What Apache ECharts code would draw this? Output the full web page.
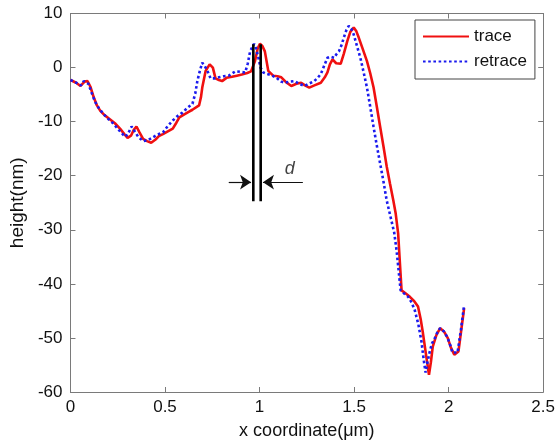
<!DOCTYPE html>
<html>
<head>
<meta charset="utf-8">
<script src="https://cdn.jsdelivr.net/npm/echarts@6/dist/echarts.min.js"></script>
<style>html,body{margin:0;padding:0;background:#fff}#c{width:558px;height:445px}</style>
</head>
<body>
<div id="c"></div>
<script>
// ---- data ----
const traceX = [0.00,0.03,0.053,0.075,0.09,0.105,0.123,0.14,0.158,0.18,0.21,0.235,0.262,0.285,0.302,0.32,0.335,0.349,0.365,0.384,0.405,0.427,0.45,0.47,0.489,0.515,0.541,0.56,0.576,0.6,0.625,0.645,0.68,0.69,0.697,0.715,0.736,0.753,0.767,0.785,0.802,0.825,0.854,0.88,0.906,0.935,0.955,0.976,0.99,1.002,1.015,1.028,1.046,1.072,1.095,1.115,1.14,1.168,1.195,1.22,1.24,1.263,1.29,1.324,1.345,1.359,1.372,1.386,1.405,1.429,1.445,1.464,1.48,1.498,1.512,1.525,1.545,1.568,1.585,1.603,1.62,1.638,1.655,1.673,1.69,1.707,1.72,1.733,1.742,1.751,1.77,1.795,1.818,1.838,1.852,1.864,1.88,1.896,1.906,1.916,1.935,1.955,1.975,1.995,2.012,2.03,2.052,2.065,2.082];
const traceY = [-2.3,-2.8,-3.4,-2.6,-2.5,-3.5,-5.5,-7,-8,-8.8,-9.6,-10.3,-11.3,-12.3,-13,-12.6,-11.5,-10.9,-12,-13.2,-13.6,-13.9,-13.3,-12.6,-12.3,-11.8,-11.3,-10.2,-9.2,-8.7,-8.2,-7.8,-7,-5.5,-3.7,-0.6,0.6,0,-2,-2.3,-2.5,-1.9,-1.7,-1.5,-1.3,-1.0,-0.7,1.2,3.5,4.4,4.0,3,-0.6,-1.5,-1.6,-1.8,-2.7,-3.4,-3.0,-2.8,-3.3,-3.7,-3.3,-2.8,-1.8,-0.9,0.6,1.5,0.8,0.7,2.5,4.9,6.6,7.4,6.7,5.5,3.5,1.2,-1,-3.7,-7.2,-11,-14.5,-18.4,-21.5,-24.5,-27,-30.7,-36,-41.2,-41.7,-42.4,-43.2,-44.2,-46.5,-49.1,-53,-56.8,-54.5,-51.6,-49.5,-48.2,-48.8,-50,-51.8,-53.1,-52.5,-49,-44.5];
const retraceX = [0.00,0.03,0.055,0.07,0.08,0.095,0.11,0.13,0.15,0.175,0.2,0.225,0.25,0.27,0.29,0.305,0.323,0.34,0.358,0.384,0.41,0.436,0.46,0.489,0.515,0.541,0.565,0.593,0.62,0.645,0.66,0.671,0.685,0.697,0.71,0.724,0.741,0.76,0.785,0.81,0.837,0.855,0.872,0.9,0.924,0.938,0.95,0.971,0.982,0.994,1.005,1.02,1.04,1.063,1.09,1.115,1.133,1.16,1.185,1.21,1.237,1.26,1.289,1.305,1.324,1.34,1.359,1.375,1.394,1.405,1.42,1.435,1.446,1.46,1.472,1.485,1.498,1.515,1.533,1.55,1.568,1.585,1.603,1.62,1.638,1.655,1.672,1.69,1.712,1.725,1.746,1.765,1.786,1.805,1.821,1.84,1.856,1.868,1.878,1.888,1.899,1.912,1.925,1.94,1.955,1.975,1.995,2.01,2.02,2.047,2.065,2.082];
const retraceY = [-2.3,-2.8,-3.3,-2.5,-2.3,-3,-4.5,-6.3,-7.5,-8.6,-9.5,-10.3,-11.3,-12.1,-12.8,-12.2,-10.9,-11.8,-12.8,-13.6,-13.4,-12.9,-12.4,-12,-10.8,-9.8,-9,-8.3,-7.4,-6.7,-4.8,-2.5,-0.5,0.9,0.3,-0.6,-2,-2,-1.8,-1.6,-1.5,-1.1,-0.7,-0.8,-0.9,0.8,3,4.4,3.5,1.8,0,-0.9,-1.2,-1.4,-1.9,-2.6,-2.8,-2.6,-2.5,-3.0,-3.4,-3.0,-2.5,-2.0,-1.2,0.2,1.8,2.0,1.8,2.4,3,4.3,5.6,7,7.7,7.2,6.1,4,1.8,-0.8,-3.7,-7.2,-11,-14.4,-17.8,-21,-24.5,-27.2,-30.5,-33.9,-41.2,-41.8,-42.4,-43.5,-44.9,-47.5,-50.6,-54,-56.4,-54.5,-52.7,-51,-50.2,-49,-48.2,-48.8,-50,-51.5,-52.7,-52.7,-48.5,-43.9];
const seriesNames = ['trace', 'retrace'];
const barsX = [0.967, 1.006];         // annotation bars (µm)
const barsY = [4.3, -24.7];           // annotation bar extent (nm)
const arrowLeft = [[0.837, -21.2], [0.955, -21.2]];
const arrowRight = [[1.229, -21.2], [1.018, -21.2]];
const dLabel = [1.16, -18.8];
const xTicks = {min: 0, max: 2.5, interval: 0.5};
const yTicks = {min: -60, max: 10, interval: 10};

const zip = (a, b) => a.map((v, i) => [v, b[i]]);
const font = 'Liberation Sans, Arial, sans-serif';
const axisGray = '#7a7a7a';

function mkX(pos, labels) {
  return {
    type: 'value', position: pos, min: xTicks.min, max: xTicks.max, interval: xTicks.interval,
    axisLine: {show: true, onZero: false, lineStyle: {color: axisGray, width: 1}},
    axisTick: {show: true, inside: true, length: 5, lineStyle: {color: axisGray}},
    axisLabel: {show: labels, color: '#111', fontSize: 17, fontFamily: font, margin: 7},
    splitLine: {show: false}
  };
}
function mkY(pos, labels) {
  return {
    type: 'value', position: pos, min: yTicks.min, max: yTicks.max, interval: yTicks.interval,
    axisLine: {show: true, onZero: false, lineStyle: {color: axisGray, width: 1}},
    axisTick: {show: true, inside: true, length: 5, lineStyle: {color: axisGray}},
    axisLabel: {show: labels, color: '#111', fontSize: 17, fontFamily: font, margin: 8},
    splitLine: {show: false}
  };
}
const xMain = mkX('bottom', true);
xMain.name = 'x coordinate(\u03bcm)';
xMain.nameLocation = 'middle';
xMain.nameGap = 30;
xMain.nameTextStyle = {color: '#111', fontSize: 18, fontFamily: font};
const yMain = mkY('left', true);
yMain.name = 'height(nm)';
yMain.nameLocation = 'middle';
yMain.nameGap = 32;
yMain.nameTextStyle = {color: '#111', fontSize: 19, fontFamily: font};

const annot = [];
barsX.forEach((bx, i) => {
  annot.push({
    type: 'line', name: 'bar' + i, xAxisIndex: 0, yAxisIndex: 0,
    data: [[bx, barsY[0]], [bx, barsY[1]]], showSymbol: false, symbol: 'none',
    lineStyle: {color: '#000', width: 2.6}, silent: true, z: 5
  });
});
annot.push({
  type: 'scatter', name: 'dlabel', data: [dLabel], symbolSize: 0, silent: true,
  label: {show: true, formatter: 'd', position: 'inside', fontStyle: 'italic', fontSize: 18, color: '#111', fontFamily: font},
  markLine: {
    silent: true, symbol: ['none', 'arrow'], symbolSize: 11,
    lineStyle: {color: '#111', width: 1.2, type: 'solid'}, label: {show: false},
    itemStyle: {color: '#111'},
    data: [
      [{coord: arrowLeft[0]}, {coord: arrowLeft[1]}],
      [{coord: arrowRight[0]}, {coord: arrowRight[1]}]
    ]
  }
});

const chart = echarts.init(document.getElementById('c'), null, {renderer: 'canvas'});
chart.setOption({
  animation: false,
  backgroundColor: '#fff',
  grid: {left: 66.5, right: 13, top: 13.5, bottom: 52.5, containLabel: false},
  xAxis: [xMain, mkX('top', false)],
  yAxis: [yMain, mkY('right', false)],
  legend: {
    data: seriesNames, orient: 'vertical', left: 415, top: 20,
    padding: [8, 8, 9, 7], itemGap: 8, itemWidth: 46, itemHeight: 14,
    borderColor: '#444', borderWidth: 1, backgroundColor: '#fff',
    itemStyle: {color: 'rgba(0,0,0,0)', borderWidth: 0, opacity: 0},
    textStyle: {color: '#111', fontSize: 17, fontFamily: font, lineHeight: 15}
  },
  series: [
    {type: 'line', name: seriesNames[0], data: zip(traceX, traceY), showSymbol: false, symbol: 'circle',
     lineStyle: {color: '#f01010', width: 2.6}, itemStyle: {color: '#f01010'}, z: 3},
    {type: 'line', name: seriesNames[1], data: zip(retraceX, retraceY), showSymbol: false, symbol: 'circle',
     lineStyle: {color: '#1a1aee', width: 2.6, type: [2.6, 2.6]}, itemStyle: {color: '#1a1aee'}, z: 4}
  ].concat(annot)
});
</script>
</body>
</html>
